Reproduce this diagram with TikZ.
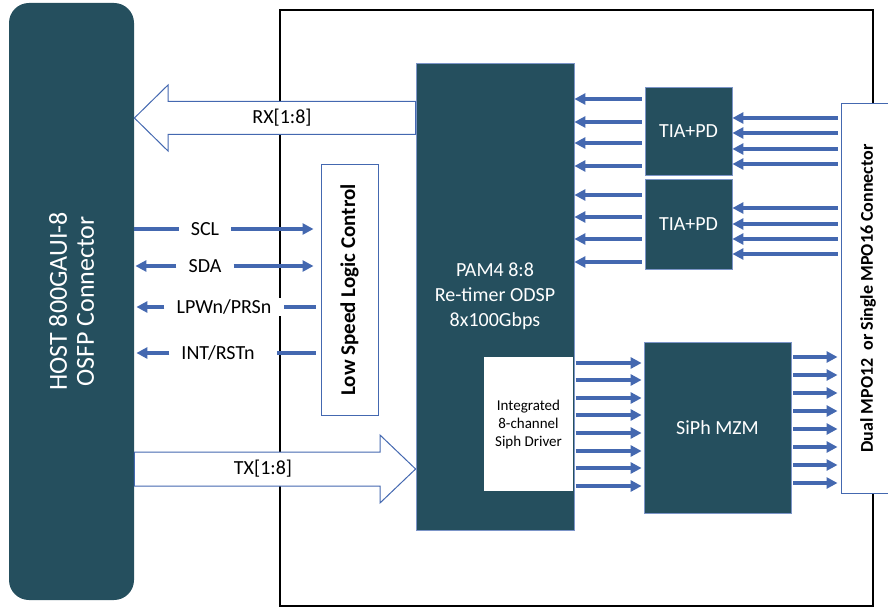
\documentclass[tikz,border=0pt]{standalone}
\usepackage{fontspec}
\setmainfont{Carlito}
\usepackage{xcolor}
\usetikzlibrary{shapes,arrows.meta,positioning,calc}

\definecolor{hostblue}{HTML}{254F5E}
\definecolor{wireblue}{HTML}{4468B0}

\tikzset{
  dark/.style={rectangle, fill=hostblue, draw=wireblue!70, line width=0.8pt, text=white, inner sep=0pt, align=center, font=\fontsize{20}{25}\selectfont},
  lite/.style={rectangle, fill=white, draw=wireblue, line width=1pt, inner sep=0pt, align=center},
  wire/.style={draw=wireblue, line width=3.2pt, -{Triangle[length=11pt,width=11pt]}},
  bigarrow/.style={draw=wireblue, line width=1pt, fill=white},
  sig/.style={fill=white, inner xsep=12pt, inner ysep=2pt, font=\fontsize{20}{24}\selectfont}
}

\begin{document}
\begin{tikzpicture}[x=1pt, y=-1pt]
\useasboundingbox (0,0) rectangle (888,612);

% module outline
\node[draw, line width=2.2pt, minimum width=593, minimum height=596, inner sep=0pt] (module) at (576.5,308) {};

% host side
\node[dark, draw=none, rounded corners=20pt, rotate=90, minimum width=597, minimum height=125, font=\fontsize{26}{27}\selectfont] (host) at (71.5,301.5) {HOST 800GAUI-8\\OSFP Connector};

% blocks
\node[dark, minimum width=158, minimum height=467] (odsp) at (495,296.5) {PAM4 8:8\\Re-timer ODSP\\8x100Gbps};
\node[lite, draw=none, minimum width=89, minimum height=134, font=\fontsize{15}{18}\selectfont] (drv) at (528.5,424) {Integrated\\8-channel\\Siph Driver};
\node[lite, rotate=90, minimum width=250, minimum height=57, font=\fontsize{21}{24}\selectfont\bfseries] (lslc) at (349.5,290) {Low Speed Logic Control};
\node[dark, minimum width=87, minimum height=88] (tia1) at (688.5,131) {TIA+PD};
\node[dark, minimum width=87, minimum height=90] (tia2) at (688.5,224) {TIA+PD};
\node[dark, minimum width=147, minimum height=171] (mzm) at (717.5,427.5) {SiPh MZM};
\node[lite, rotate=90, minimum width=389, minimum height=54, font=\fontsize{18}{20}\selectfont\bfseries] (mpo) at (868,298.5) {Dual MPO12~~or Single MPO16 Connector};

% wide data paths
\draw[bigarrow] (host.south |- 0,118) -- (168,85) -- (168,101.5) -- (odsp.west |- 0,101.5) -- (odsp.west |- 0,134.5) -- (168,134.5) -- (168,151) -- cycle;
\node[font=\fontsize{20}{24}\selectfont] (rx) at (282,118) {RX[1:8]};
\draw[bigarrow] (odsp.west |- 0,469) -- (380,503) -- (380,486) -- (host.south |- 0,486) -- (host.south |- 0,452) -- (380,452) -- (380,435) -- cycle;
\node[font=\fontsize{20}{24}\selectfont] (tx) at (263,469) {TX[1:8]};

% low speed signals
\node[sig] (scl) at (205,229) {SCL};
\node[sig] (sda) at (205,266) {SDA};
\node[sig] (lpwn) at (224,307) {LPWn/PRSn};
\node[sig] (intr) at (218,353) {INT/RSTn};

\draw[wire, -] (host.south |- scl) -- (scl);
\draw[wire, shorten >=7pt] (scl) -- (lslc.north |- scl);
\draw[wire, shorten >=1pt] (sda) -- (host.south |- sda);
\draw[wire, shorten >=7pt] (sda) -- (lslc.north |- sda);
\draw[wire, shorten >=2pt] (lpwn) -- (host.south |- lpwn);
\draw[wire, -, shorten <=5pt] (lslc.north |- lpwn) -- (lpwn);
\draw[wire, shorten >=2pt] (intr) -- (host.south |- intr);
\draw[wire, -, shorten <=5pt, shorten >=10pt] (lslc.north |- intr) -- (intr);

% receive lanes
\foreach \y in {99,122,143,166}
  \draw[wire, shorten <=3pt] (tia1.west |- 0,\y) -- (odsp.east |- 0,\y);
\foreach \y in {195,217,239,262}
  \draw[wire, shorten <=3pt] (tia2.west |- 0,\y) -- (odsp.east |- 0,\y);
\foreach \y in {118,133,149,164}
  \draw[wire, shorten <=3pt] (mpo.north |- 0,\y) -- (tia1.east |- 0,\y);
\foreach \y in {208,224,239,254}
  \draw[wire, shorten <=3pt] (mpo.north |- 0,\y) -- (tia2.east |- 0,\y);

% transmit lanes
\foreach \y in {363,380,398,415,433,451,468,486}
  \draw[wire, shorten <=2pt, shorten >=2pt] (drv.east |- 0,\y) -- (mzm.west |- 0,\y);
\foreach \y in {357,375,393,411,429,447,465,483}
  \draw[wire, shorten <=2pt, shorten >=3pt] (mzm.east |- 0,\y) -- (mpo.north |- 0,\y);
\end{tikzpicture}
\end{document}
